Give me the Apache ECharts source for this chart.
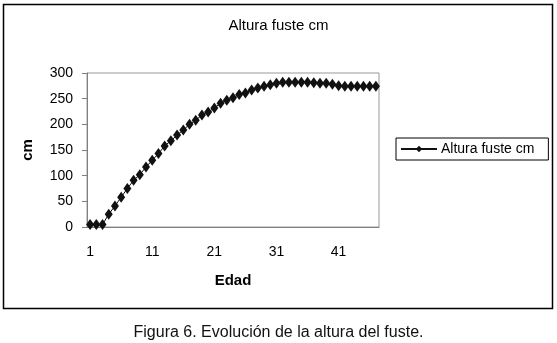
<!DOCTYPE html>
<html lang="es">
<head>
  <meta charset="utf-8">
  <title>Altura fuste cm</title>
  <script src="https://fastly.jsdelivr.net/npm/echarts@6/dist/echarts.min.js"></script>
  <style>
    * { margin: 0; padding: 0; }
    body { background: #fff; }
    #chart { width: 557px; height: 343px; }
  </style>
</head>
<body>
  <div id="chart"></div>
  <script>
    // Edad 1..47
    var edades = [];
    for (var i = 1; i <= 47; i++) edades.push(String(i));

    // altura del fuste (cm)
    var altura = [
      5, 5, 5, 25, 41, 58, 75, 91, 102, 117,
      130, 143, 158, 168, 179, 189, 200, 208, 218, 224,
      232, 241, 247, 252, 258, 261, 267, 271, 274, 277,
      280, 282, 282, 282, 282, 282, 281, 280, 280, 278,
      275, 274, 274, 274, 274, 274, 274
    ];

    var font = '"Liberation Sans", Arial, sans-serif';

    var chart = echarts.init(document.getElementById('chart'), null, { renderer: 'canvas' });

    var option = {
      animation: false,
      backgroundColor: '#fff',
      title: {
        text: 'Altura fuste cm',
        left: 'center',
        top: 13,
        textStyle: { fontFamily: font, fontSize: 15, fontWeight: 'normal', color: '#000' }
      },
      legend: {
        left: 396,
        top: 138,
        padding: [4, 14, 4, 4],
        borderColor: '#000',
        borderWidth: 1,
        itemWidth: 36,
        itemHeight: 8,
        itemGap: 4,
        textStyle: { fontFamily: font, fontSize: 14, color: '#000', padding: [0, 0, 0, -1] },
        data: ['Altura fuste cm']
      },
      grid: {
        left: 87,
        top: 73,
        width: 292,
        height: 154,
        show: true,
        borderColor: '#999',
        borderWidth: 1,
        containLabel: false
      },
      xAxis: {
        type: 'category',
        data: edades,
        boundaryGap: true,
        name: 'Edad',
        nameLocation: 'middle',
        nameGap: 46,
        nameTextStyle: { fontFamily: font, fontSize: 15, fontWeight: 'bold', color: '#000' },
        axisLine: { lineStyle: { color: '#808080' } },
        axisTick: { interval: 9, length: 5, lineStyle: { color: '#808080' } },
        axisLabel: { interval: 9, margin: 18, fontFamily: font, fontSize: 14, color: '#000' },
        splitLine: { show: false }
      },
      yAxis: {
        type: 'value',
        min: 0,
        max: 300,
        interval: 50,
        name: 'cm',
        nameLocation: 'middle',
        nameGap: 52,
        nameRotate: 90,
        nameTextStyle: { fontFamily: font, fontSize: 15, fontWeight: 'bold', color: '#000' },
        axisLine: { show: true, lineStyle: { color: '#808080' } },
        axisTick: { show: true, length: 5, lineStyle: { color: '#808080' } },
        axisLabel: { margin: 14, fontFamily: font, fontSize: 14, color: '#000' },
        splitLine: { show: false }
      },
      series: [
        {
          name: 'Altura fuste cm',
          type: 'line',
          data: altura,
          symbol: 'diamond',
          symbolSize: [8, 11],
          showAllSymbol: true,
          itemStyle: { color: '#111' },
          lineStyle: { color: '#111', width: 1 }
        }
      ],
      graphic: [
        {
          type: 'rect',
          shape: { x: 3.5, y: 4.5, width: 549, height: 304 },
          style: { fill: null, stroke: '#000', lineWidth: 1.5 },
          silent: true
        },
        {
          type: 'text',
          left: 'center',
          top: 325,
          style: {
            text: 'Figura 6. Evolución de la altura del fuste.',
            font: '16px ' + font,
            fill: '#111'
          }
        }
      ]
    };

    chart.setOption(option);
    window.addEventListener('resize', chart.resize);
  </script>
</body>
</html>
